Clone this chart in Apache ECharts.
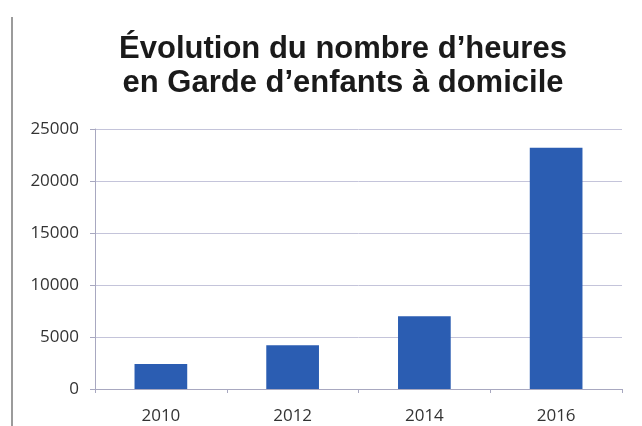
<!DOCTYPE html>
<html><head><meta charset="utf-8">
<script src="https://cdn.jsdelivr.net/npm/echarts@6/dist/echarts.min.js"></script>
<style>html,body{margin:0;padding:0;background:#fff}#c{width:642px;height:426px}</style>
</head><body><div id="c"></div>
<script>
const titleLines = ["Évolution du nombre d’heures", "en Garde d’enfants à domicile"];
const categories = ["2010", "2012", "2014", "2016"];
const heures = [2400, 4200, 7000, 23200];
const yTicks = [0, 5000, 10000, 15000, 20000, 25000];

const chart = echarts.init(document.getElementById('c'));
chart.setOption({
  animation: false,
  backgroundColor: '#ffffff',
  title: {
    text: titleLines.join('\n'),
    left: 338, top: 27, textAlign: 'center',
    textStyle: { fontFamily: 'Liberation Sans', fontWeight: 'bold', fontSize: 31, lineHeight: 34, color: '#1a1a1a' }
  },
  graphic: [{
    type: 'line', shape: { x1: 12, y1: 17, x2: 12, y2: 426 },
    style: { stroke: '#7a7a7a', lineWidth: 1.5 }
  }],
  grid: { left: 95, right: 20, top: 129, bottom: 37 },
  xAxis: {
    type: 'category', data: categories,
    axisLine: { lineStyle: { color: '#a8a8c0', width: 1 } },
    axisTick: { show: true, length: 4, lineStyle: { color: '#a8a8c0' } },
    axisLabel: { color: '#333', fontFamily: 'Open Sans', fontSize: 17, margin: 19 }
  },
  yAxis: {
    type: 'value', min: yTicks[0], max: yTicks[yTicks.length - 1], interval: yTicks[1] - yTicks[0],
    axisLine: { show: true, lineStyle: { color: '#a8a8c0' } },
    axisTick: { show: true, length: 5, lineStyle: { color: '#a8a8c0' } },
    splitLine: { lineStyle: { color: '#c4c4da', width: 1 } },
    axisLabel: { color: '#333', fontFamily: 'Open Sans', fontSize: 17, margin: 16,
      formatter: v => String(v) }
  },
  series: [{
    type: 'bar', data: heures, barWidth: '40%',
    itemStyle: { color: '#2b5db2' }
  }]
});
</script></body></html>
